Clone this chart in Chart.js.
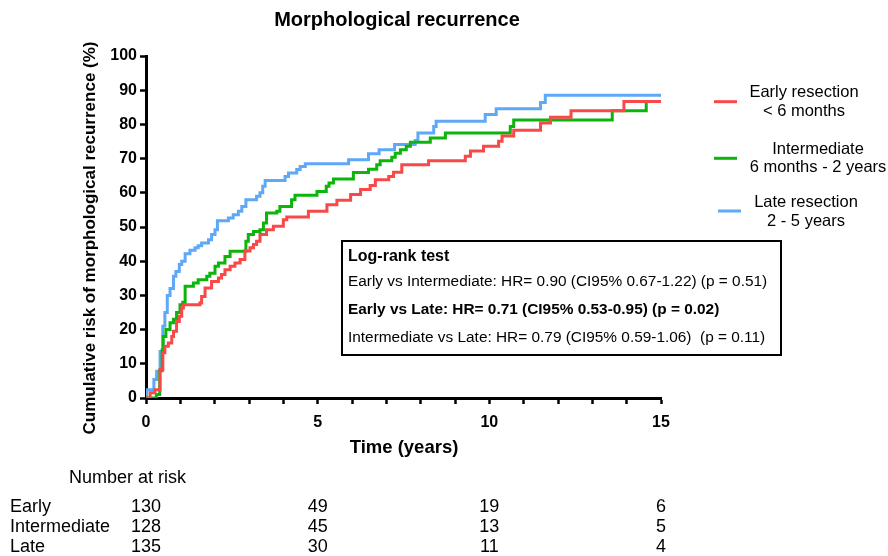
<!DOCTYPE html>
<html>
<head>
<meta charset="utf-8">
<script src="https://cdn.jsdelivr.net/npm/chart.js@4/dist/chart.umd.min.js"></script>
<style>
  body { margin: 0; background: #fff; }
  #wrap { width: 888px; height: 556px; }
</style>
</head>
<body>
<div id="wrap"><canvas id="kmChart" width="888" height="556"></canvas></div>
<script>
// cumulative risk (%), step values at each event time (years)
const earlyTime = [0, 0.12, 0.26, 0.41, 0.49, 0.55, 0.65, 0.75, 0.80, 0.89, 0.97, 1.04, 1.09, 1.57, 1.62, 1.72, 1.91, 2.11, 2.20, 2.30, 2.45, 2.59, 2.74, 2.88, 3.03, 3.13, 3.22, 3.32, 3.51, 3.71, 4.00, 4.10, 4.73, 5.27, 5.56, 5.96, 6.25, 6.53, 6.68, 7.07, 7.21, 7.45, 8.23, 9.30, 9.45, 9.83, 10.27, 10.37, 10.71, 11.49, 11.78, 12.38, 13.92, 15];
const earlyRisk = [0, 1.5, 2.4, 8.3, 13.2, 15.1, 16.1, 18.0, 19.5, 22.4, 23.9, 26.3, 27.3, 27.8, 29.7, 32.2, 34.1, 35.1, 36.1, 37.5, 38.5, 39.5, 40.5, 43.0, 43.9, 44.9, 45.8, 47.8, 49.2, 50.2, 52.1, 52.9, 54.6, 56.5, 57.8, 59.5, 61.0, 62.1, 63.8, 64.8, 66.0, 68.2, 69.4, 70.7, 72.2, 73.6, 75.1, 76.6, 78.3, 80.4, 82.1, 84.0, 86.7, 86.7];

const interTime = [0, 0.30, 0.40, 0.47, 0.50, 0.58, 0.70, 0.80, 0.89, 0.99, 1.07, 1.14, 1.38, 1.52, 1.77, 1.86, 2.01, 2.11, 2.30, 2.45, 2.91, 2.98, 3.13, 3.32, 3.42, 3.51, 3.81, 3.90, 4.24, 4.34, 4.98, 5.25, 5.33, 5.46, 6.04, 6.48, 6.72, 6.82, 7.16, 7.26, 7.41, 7.58, 7.70, 8.28, 8.72, 10.61, 10.71, 13.58, 14.57];
const interRisk = [0, 1.0, 8.0, 14.0, 18.0, 20.0, 22.0, 23.0, 25.0, 27.3, 28.0, 32.7, 33.6, 34.6, 35.6, 36.5, 38.5, 39.5, 41.4, 42.9, 45.8, 47.8, 48.7, 49.2, 51.2, 54.1, 54.6, 56.0, 58.0, 59.3, 60.4, 61.9, 62.9, 64.0, 65.9, 66.9, 68.2, 69.4, 70.4, 71.6, 72.6, 73.6, 74.8, 76.0, 77.5, 79.4, 81.3, 84.0, 86.7];

const lateTime = [0, 0.02, 0.23, 0.31, 0.41, 0.49, 0.55, 0.62, 0.70, 0.80, 0.87, 0.97, 1.04, 1.14, 1.28, 1.43, 1.52, 1.62, 1.82, 1.91, 2.01, 2.08, 2.40, 2.54, 2.69, 2.79, 2.91, 3.22, 3.32, 3.40, 3.47, 4.05, 4.15, 4.39, 4.49, 4.64, 5.90, 6.48, 6.79, 7.24, 7.84, 7.92, 8.38, 8.45, 9.88, 10.20, 11.49, 11.63, 15];
const lateRisk = [0, 2.4, 5.4, 7.8, 13.6, 21.0, 25.0, 30.0, 32.0, 35.6, 37.0, 39.0, 40.0, 42.2, 43.2, 43.9, 44.5, 45.3, 46.3, 47.8, 49.2, 51.8, 52.6, 53.6, 54.6, 56.0, 58.0, 59.0, 60.0, 61.9, 63.6, 64.8, 65.8, 66.8, 67.7, 68.5, 69.7, 71.4, 72.6, 74.1, 75.3, 77.5, 79.4, 80.9, 82.9, 84.6, 86.4, 88.5, 88.5];

const groupNames = ['Early', 'Intermediate', 'Late'];
const legendLines = [['Early resection', '< 6 months'], ['Intermediate', '6 months - 2 years'], ['Late resection', '2 - 5 years']];
const groupColors = ['#f94848', '#0cb40c', '#5fa8f8'];

const riskTimes = [0, 5, 10, 15];
const atRiskEarly = [130, 49, 19, 6];
const atRiskInter = [128, 45, 13, 5];
const atRiskLate = [135, 30, 11, 4];

const logRankTitle = 'Log-rank test';
const logRankRows = [
  'Early vs Intermediate: HR= 0.90 (CI95% 0.67-1.22) (p = 0.51)',
  'Early vs Late: HR= 0.71 (CI95% 0.53-0.95) (p = 0.02)',
  'Intermediate vs Late: HR= 0.79 (CI95% 0.59-1.06)  (p = 0.11)'
];

const FONT = '"Liberation Sans", Arial, sans-serif';

function toPoints(times, risks) {
  return times.map((t, i) => ({ x: t, y: risks[i] }));
}

const extras = {
  id: 'extras',
  afterDraw(chart) {
    const ctx = chart.ctx;
    const xs = chart.scales.x;
    ctx.save();
    ctx.fillStyle = '#000';

    // title + axis titles
    ctx.textAlign = 'center';
    ctx.textBaseline = 'middle';
    ctx.font = 'bold 20px ' + FONT;
    ctx.fillText('Morphological recurrence', 397, 20);
    ctx.font = 'bold 18.5px ' + FONT;
    ctx.fillText('Time (years)', 404, 448);
    ctx.save();
    ctx.translate(90, 238);
    ctx.rotate(-Math.PI / 2);
    ctx.font = 'bold 17px ' + FONT;
    ctx.fillText('Cumulative risk of morphological recurrence (%)', 0, 0);
    ctx.restore();

    // legend
    const legendY = [[101.7, 92.7, 111], [158.3, 149.3, 167.7], [211, 202.7, 221]];
    const legendTextX = [804, 818, 806];
    const legendLineX = [714, 714, 718];
    ctx.font = '16.5px ' + FONT;
    legendLines.forEach((lines, i) => {
      ctx.strokeStyle = groupColors[i];
      ctx.lineWidth = 3;
      ctx.beginPath();
      ctx.moveTo(legendLineX[i], legendY[i][0]);
      ctx.lineTo(legendLineX[i] + 23, legendY[i][0]);
      ctx.stroke();
      ctx.fillText(lines[0], legendTextX[i], legendY[i][1]);
      ctx.fillText(lines[1], legendTextX[i], legendY[i][2]);
    });

    // log-rank box
    ctx.strokeStyle = '#000';
    ctx.lineWidth = 2;
    ctx.strokeRect(342, 241, 439, 114);
    ctx.textAlign = 'left';
    ctx.font = 'bold 16px ' + FONT;
    ctx.fillText(logRankTitle, 348, 257);
    const rowY = [282, 310, 338];
    logRankRows.forEach((txt, i) => {
      ctx.font = (i === 1 ? 'bold ' : '') + '15.4px ' + FONT;
      ctx.fillText(txt, 348, rowY[i]);
    });

    // number at risk table
    ctx.font = '18px ' + FONT;
    ctx.fillText('Number at risk', 69, 478);
    const tableRows = [atRiskEarly, atRiskInter, atRiskLate];
    const tableY = [507, 527, 547];
    tableRows.forEach((row, r) => {
      ctx.textAlign = 'left';
      ctx.fillText(groupNames[r], 10, tableY[r]);
      ctx.textAlign = 'center';
      row.forEach((n, j) => {
        ctx.fillText(String(n), xs.getPixelForValue(riskTimes[j]), tableY[r]);
      });
    });
    ctx.restore();
  }
};

const ctx = document.getElementById('kmChart').getContext('2d');
new Chart(ctx, {
  type: 'line',
  data: {
    datasets: [
      { label: 'Early', data: toPoints(earlyTime, earlyRisk), borderColor: groupColors[0] },
      { label: 'Intermediate', data: toPoints(interTime, interRisk), borderColor: groupColors[1] },
      { label: 'Late', data: toPoints(lateTime, lateRisk), borderColor: groupColors[2] }
    ].map(ds => Object.assign(ds, {
      stepped: 'before',
      borderWidth: 3,
      pointRadius: 0,
      fill: false,
      tension: 0,
      borderCapStyle: 'square'
    }))
  },
  options: {
    responsive: false,
    animation: false,
    devicePixelRatio: 1,
    layout: { padding: { left: 0, right: 227, top: 56, bottom: 118 } },
    plugins: { legend: { display: false }, tooltip: { enabled: false }, title: { display: false } },
    scales: {
      x: {
        type: 'linear',
        min: 0,
        max: 15,
        afterFit: scale => { scale.height = 40; },
        border: { display: true, color: '#000', width: 3 },
        grid: { drawOnChartArea: false, drawTicks: true, tickLength: 6, tickWidth: 2.5, tickColor: '#000' },
        ticks: {
          stepSize: 1,
          autoSkip: false,
          maxRotation: 0,
          padding: 9,
          color: '#000',
          font: { family: FONT, size: 16, weight: 'bold' },
          callback: v => (v % 5 === 0 ? String(v) : '')
        }
      },
      y: {
        min: 0,
        max: 100,
        afterFit: scale => { scale.width = 146; },
        border: { display: true, color: '#000', width: 3 },
        grid: { drawOnChartArea: false, drawTicks: true, tickLength: 6, tickWidth: 2.5, tickColor: '#000' },
        ticks: {
          stepSize: 10,
          padding: 3,
          color: '#000',
          font: { family: FONT, size: 16, weight: 'bold' }
        }
      }
    }
  },
  plugins: [extras]
});
</script>
</body>
</html>
